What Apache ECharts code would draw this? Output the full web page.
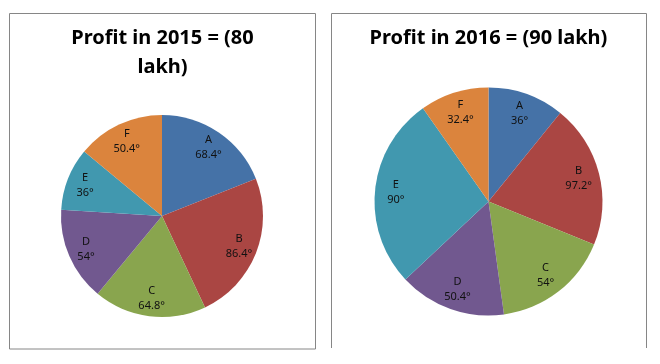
<!DOCTYPE html>
<html>
<head>
<meta charset="utf-8">
<script src="https://cdn.jsdelivr.net/npm/echarts@6/dist/echarts.min.js"></script>
<style>
html,body{margin:0;padding:0;background:#fff;}
#c{width:660px;height:364px;}
</style>
</head>
<body>
<div id="c"></div>
<script>
var categories = ['A', 'B', 'C', 'D', 'E', 'F'];
// 2015: labels and drawn slices agree
var labels2015 = [68.4, 86.4, 64.8, 54, 36, 50.4];
var slices2015 = [68.4, 86.4, 64.8, 54, 36, 50.4];
// 2016: the printed degree labels differ from the slice sizes drawn in the picture
var labels2016 = [36, 97.2, 54, 50.4, 90, 32.4];
var slices2016 = [39, 73.2, 60, 54.6, 98.1, 35.1];
var title2015 = 'Profit in 2015 = (80\nlakh)';
var title2016 = 'Profit in 2016 = (90 lakh)';
var colors = ['#4572A7', '#AA4643', '#89A54E', '#71588F', '#4198AF', '#DB843D'];

function toData(vals) {
  return categories.map(function (c, i) { return { name: c, value: vals[i] }; });
}

function pieSeries(vals, labels, center, r) {
  return [
    {
      type: 'pie', center: center, radius: [0, r], startAngle: 90, clockwise: true,
      data: toData(vals), label: { show: false }, labelLine: { show: false },
      itemStyle: { borderWidth: 0 }, silent: true, animation: false,
      emphasis: { disabled: true }
    },
    {
      type: 'pie', center: center, radius: [r * 0.58, r], startAngle: 90, clockwise: true,
      data: toData(vals), silent: true, animation: false, z: 5,
      itemStyle: { color: 'rgba(0,0,0,0)', borderWidth: 0 },
      emphasis: { disabled: true },
      labelLine: { show: false },
      label: {
        show: true, position: 'inside',
        formatter: function (p) { return p.name + '\n' + labels[p.dataIndex] + '°'; },
        fontFamily: 'Noto Sans', fontSize: 11, lineHeight: 15, color: '#111'
      }
    }
  ];
}

var chart = echarts.init(document.getElementById('c'), null, { renderer: 'canvas' });
chart.setOption({
  animation: false,
  color: colors,
  title: [
    { text: title2015, left: 162.5, top: 24, textAlign: 'center', padding: 0,
      textStyle: { fontFamily: 'Noto Sans', fontWeight: 'bold', fontSize: 20, lineHeight: 29, color: '#000' } },
    { text: title2016, left: 488.5, top: 24, textAlign: 'center', padding: 0,
      textStyle: { fontFamily: 'Noto Sans', fontWeight: 'bold', fontSize: 20, lineHeight: 29, color: '#000' } }
  ],
  graphic: [
    { type: 'rect', shape: { x: 9.5, y: 13.5, width: 306, height: 335.5 },
      style: { fill: 'none', stroke: '#868686', lineWidth: 1 }, z: -1 },
    { type: 'polyline', shape: { points: [[331.5, 348], [331.5, 13.5], [646.5, 13.5], [646.5, 348]] },
      style: { fill: 'none', stroke: '#868686', lineWidth: 1 }, z: -1 }
  ],
  series: pieSeries(slices2015, labels2015, [162, 216], 101)
    .concat(pieSeries(slices2016, labels2016, [488.5, 201.5], 114))
});
</script>
</body>
</html>
